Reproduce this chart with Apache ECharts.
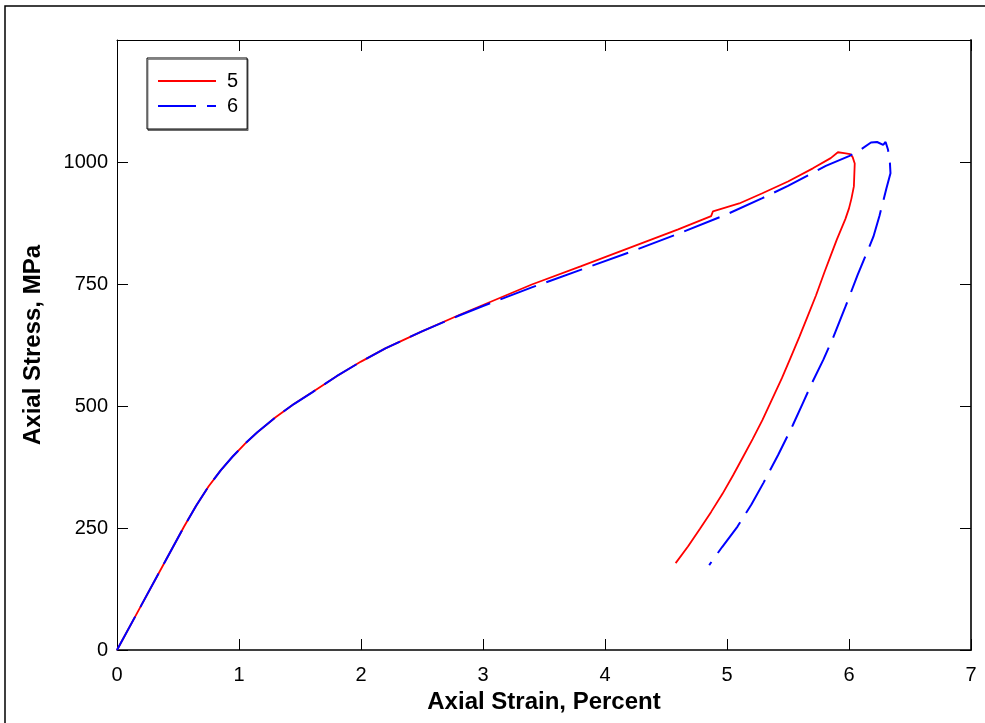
<!DOCTYPE html>
<html><head><meta charset="utf-8">
<script src="https://cdn.jsdelivr.net/npm/echarts@6/dist/echarts.min.js"></script>
<style>html,body{margin:0;padding:0;background:#fff}#c{width:985px;height:723px}</style>
</head><body><div id="c"></div>
<script>
const seriesNames = ['5', '6'];
const xTicks = [0, 1, 2, 3, 4, 5, 6, 7];
const yTicks = [0, 250, 500, 750, 1000, 1250];
// Specimen 5 (strain %, stress MPa)
const strain5 = [0, 0.2, 0.4, 0.55, 0.65, 0.75, 0.85, 0.95, 1.05, 1.15, 1.3, 1.45, 1.6, 1.8, 2.0, 2.2, 2.5, 2.8, 3.0, 3.4, 3.8, 4.2, 4.6, 4.87, 4.885, 4.9, 5.1, 5.29, 5.5, 5.704, 5.85, 5.909, 5.96, 6.01, 6.03, 6.047, 6.04, 6.02, 6.0, 5.97, 5.935, 5.9, 5.868, 5.8, 5.73, 5.66, 5.594, 5.52, 5.45, 5.37, 5.29, 5.21, 5.13, 5.05, 4.963, 4.87, 4.78, 4.68, 4.579];
const stress5 = [0, 92, 184, 253, 296, 335, 368, 397, 423, 446, 477, 504, 528, 561, 591, 618, 653, 686, 707, 749, 786, 824, 862, 889, 899, 896, 915, 936, 960, 987, 1008, 1020, 1018, 1016, 1010, 997, 950, 925, 905, 883, 862, 841, 820, 775, 727, 683, 642, 598, 557, 514, 471, 432, 395, 358, 320, 283, 249, 212, 178];
// Specimen 6
const strain6 = [0, 0.2, 0.4, 0.55, 0.65, 0.75, 0.85, 0.95, 1.05, 1.15, 1.3, 1.45, 1.6, 1.8, 2.0, 2.2, 2.5, 2.8, 3.0, 3.4, 3.8, 4.2, 4.6, 5.0, 5.29, 5.5, 5.81, 6.0, 6.07, 6.18, 6.23, 6.28, 6.30, 6.32, 6.335, 6.34, 6.307, 6.25, 6.2, 6.156, 6.07, 5.97, 5.868, 5.79, 5.7, 5.62, 5.54, 5.42, 5.3, 5.2, 5.086, 4.96, 4.854];
const stress6 = [0, 92, 184, 253, 296, 335, 368, 397, 423, 446, 477, 504, 528, 561, 591, 618, 653, 685, 705, 743, 779, 815, 853, 893, 926, 951, 992, 1012, 1021, 1040, 1041, 1035, 1041, 1025, 1000, 977, 946, 890, 847, 820, 768, 703, 639, 595, 549, 505, 461, 400, 343, 298, 253, 211, 174];

const pairs = (xs, ys) => xs.map((x, i) => [x, ys[i]]);
const FONT = '"Liberation Sans", Arial, Helvetica, sans-serif';
const chart = echarts.init(document.getElementById('c'), null, {renderer: 'canvas'});
chart.setOption({
  backgroundColor: '#fff',
  animation: false,
  graphic: [{type: 'rect', shape: {x: 5, y: 6, width: 1000, height: 800},
    style: {fill: 'none', stroke: '#000', lineWidth: 1.5}, silent: true, z: -10}],
  grid: {left: 117, top: 40, width: 854, height: 610, show: false},
  legend: {
    orient: 'vertical', left: 147, top: 58, padding: [13, 9, 13, 10],
    itemWidth: 58, itemHeight: 14, itemGap: 5,
    backgroundColor: '#fff', borderColor: '#000', borderWidth: 1,
    shadowColor: 'rgba(0,0,0,0.45)', shadowOffsetX: 1, shadowOffsetY: 1.5,
    itemStyle: {opacity: 0, borderWidth: 0},
    textStyle: {fontFamily: FONT, fontSize: 20, color: '#000', padding: [0, 0, 0, 6]},
    data: seriesNames
  },
  xAxis: [{
    type: 'value', min: xTicks[0], max: xTicks[xTicks.length - 1], interval: 1,
    name: 'Axial Strain, Percent', nameLocation: 'middle', nameGap: 38,
    nameTextStyle: {fontFamily: FONT, fontSize: 24, fontWeight: 'bold', color: '#000'},
    axisLine: {show: true, onZero: false, lineStyle: {color: '#000', width: 1.5}},
    axisTick: {show: true, inside: true, length: 11, lineStyle: {color: '#000'}},
    axisLabel: {fontFamily: FONT, fontSize: 20, color: '#000', margin: 15},
    splitLine: {show: false}
  }, {
    type: 'value', position: 'top', min: xTicks[0], max: xTicks[xTicks.length - 1], interval: 1,
    axisLine: {show: true, onZero: false, lineStyle: {color: '#000', width: 1}},
    axisTick: {show: true, inside: true, length: 11, lineStyle: {color: '#000'}},
    axisLabel: {show: false}, splitLine: {show: false}
  }],
  yAxis: [{
    type: 'value', min: yTicks[0], max: yTicks[yTicks.length - 1], interval: 250,
    name: 'Axial Stress, MPa', nameLocation: 'middle', nameGap: 72,
    nameTextStyle: {fontFamily: FONT, fontSize: 24, fontWeight: 'bold', color: '#000'},
    axisLine: {show: true, onZero: false, lineStyle: {color: '#000', width: 1}},
    axisTick: {show: true, inside: true, length: 11, lineStyle: {color: '#000'}},
    axisLabel: {fontFamily: FONT, fontSize: 20, color: '#000', margin: 9,
      formatter: v => (v === 1250 ? '' : String(v))},
    splitLine: {show: false}
  }, {
    type: 'value', position: 'right', min: yTicks[0], max: yTicks[yTicks.length - 1], interval: 250,
    axisLine: {show: true, onZero: false, lineStyle: {color: '#333', width: 2}},
    axisTick: {show: true, inside: true, length: 11, lineStyle: {color: '#000'}},
    axisLabel: {show: false}, splitLine: {show: false}
  }],
  series: [{
    name: seriesNames[0], type: 'line', data: pairs(strain5, stress5),
    showSymbol: false, symbol: 'none', smooth: false,
    lineStyle: {color: '#ff0000', width: 1.8, type: 'solid'}, itemStyle: {color: '#ff0000'}, z: 2
  }, {
    name: seriesNames[1], type: 'line', data: pairs(strain6, stress6),
    showSymbol: false, symbol: 'none', smooth: false,
    lineStyle: {color: '#0000ff', width: 2, type: [38, 11]}, itemStyle: {color: '#0000ff'}, z: 3
  }]
});
</script></body></html>
